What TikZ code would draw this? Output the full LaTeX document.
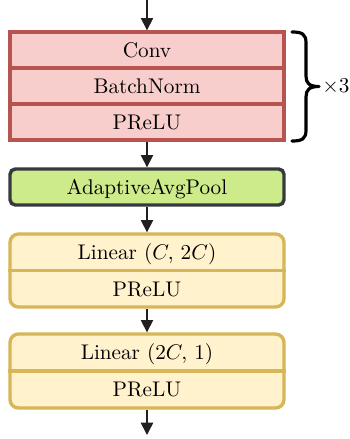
\documentclass[tikz,border=0pt]{standalone}
\usetikzlibrary{arrows.meta}
\definecolor{redfill}{HTML}{F8CECC}
\definecolor{redline}{HTML}{B85450}
\definecolor{greenfill}{HTML}{CDEB8B}
\definecolor{greenline}{HTML}{36393D}
\definecolor{yelfill}{HTML}{FFF2CC}
\definecolor{yelline}{HTML}{D6B656}
\definecolor{arrowcol}{HTML}{231F20}
\newcommand\pxu{0.4717pt}
\begin{document}
\begin{tikzpicture}[x=0.4717pt,y=-0.4717pt,
  blk/.style={rectangle, minimum width=274*\pxu, line width=1.6pt, inner sep=0pt,
    text height=7pt, text depth=0pt},
  redrow/.style={blk, draw=redline, fill=redfill, minimum height=36*\pxu},
  greenbox/.style={blk, draw=greenline, fill=greenfill, minimum height=36*\pxu, rounded corners=2.5pt},
  yelbox/.style={blk, draw=yelline, fill=yelfill, rounded corners=4pt},
  lbl/.style={inner sep=0pt, text height=7pt, text depth=0pt},
  arr/.style={draw=arrowcol, line width=0.7pt, -{Triangle[length=5.8pt,width=5.8pt]}},
  bracestyle/.style={draw=black, line width=1.5pt, line cap=round, line join=round},
]
\useasboundingbox (0,0) rectangle (349,439);

% red repeated block
\node[redrow] (conv) at (147,50) {Conv};
\node[redrow] (bn) at (147,86) {BatchNorm};
\node[redrow] (prelu) at (147,122) {PReLU};

% brace
\draw[bracestyle] (292,32) .. controls (302,32) and (306,34) .. (306,43)
  -- (306,76) .. controls (306,83) and (309,86.5) .. (319,86.5)
  .. controls (309,86.5) and (306,90) .. (306,97)
  -- (306,130) .. controls (306,139) and (302,141) .. (292,141);
\node[anchor=west, inner sep=0pt] (rep) at (322,86.5) {$\times$3};

% pooling
\node[greenbox] (pool) at (147,187) {AdaptiveAvgPool};

% linear blocks
\node[yelbox, minimum height=73*\pxu] (lin1) at (147,270.5) {};
\draw[yelline, line width=1.6pt] (lin1.west) -- (lin1.east);
\node[lbl] (lin1a) at (147,252) {Linear $(C,\, 2C)$};
\node[lbl] (lin1b) at (147,289) {PReLU};

\node[yelbox, minimum height=74*\pxu] (lin2) at (147,371) {};
\draw[yelline, line width=1.6pt] (lin2.west) -- (lin2.east);
\node[lbl] (lin2a) at (147,352.5) {Linear $(2C,\, 1)$};
\node[lbl] (lin2b) at (147,389.5) {PReLU};

% connectors
\coordinate (in) at (147,0);
\coordinate (out) at (147,435);
\draw[arr] (in) -- (conv.north);
\draw[arr] (prelu.south) -- (pool.north);
\draw[arr] (pool.south) -- (lin1.north);
\draw[arr] (lin1.south) -- (lin2.north);
\draw[arr] (lin2.south) -- (out);
\end{tikzpicture}
\end{document}
